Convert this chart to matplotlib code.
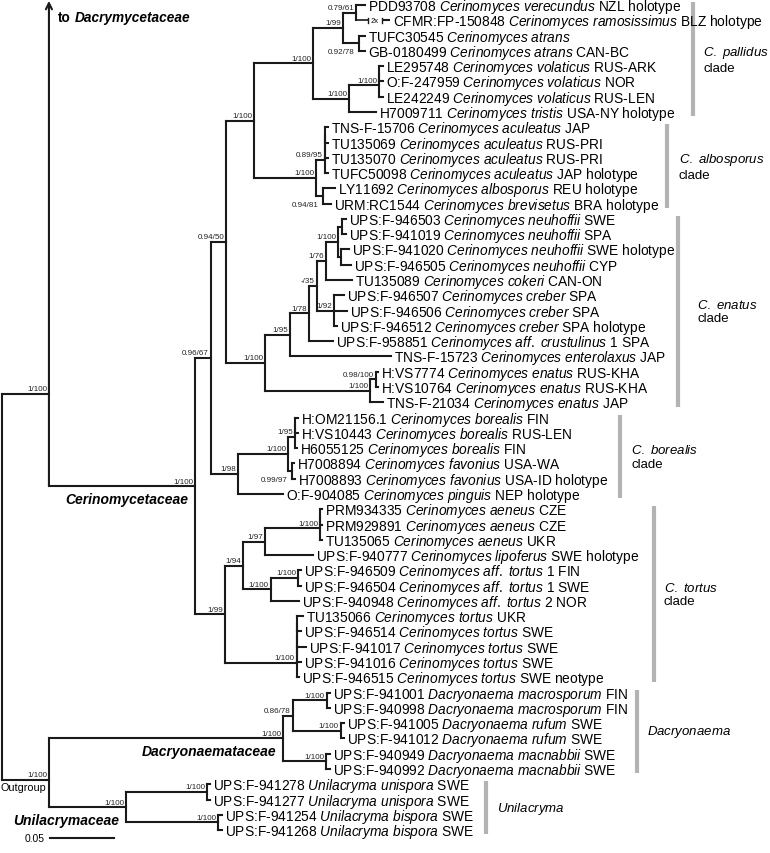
import matplotlib.pyplot as plt
from matplotlib.collections import LineCollection

plt.rcParams["font.family"] = "Liberation Sans"
plt.rcParams["mathtext.fontset"] = "custom"
plt.rcParams["mathtext.rm"] = "Liberation Sans"
plt.rcParams["mathtext.it"] = "Liberation Sans:italic"

# ---- tips, top to bottom ----
tip_ids = [
    "PDD93708", "CFMR:FP-150848", "TUFC30545", "GB-0180499", "LE295748", "O:F-247959",
    "LE242249", "H7009711", "TNS-F-15706", "TU135069", "TU135070", "TUFC50098",
    "LY11692", "URM:RC1544", "UPS:F-946503", "UPS:F-941019", "UPS:F-941020", "UPS:F-946505",
    "TU135089", "UPS:F-946507", "UPS:F-946506", "UPS:F-946512", "UPS:F-958851", "TNS-F-15723",
    "H:VS7774", "H:VS10764", "TNS-F-21034", "H:OM21156.1", "H:VS10443", "H6055125",
    "H7008894", "H7008893", "O:F-904085", "PRM934335", "PRM929891", "TU135065",
    "UPS:F-940777", "UPS:F-946509", "UPS:F-946504", "UPS:F-940948", "TU135066", "UPS:F-946514",
    "UPS:F-941017", "UPS:F-941016", "UPS:F-946515", "UPS:F-941001", "UPS:F-940998", "UPS:F-941005",
    "UPS:F-941012", "UPS:F-940949", "UPS:F-940992", "UPS:F-941278", "UPS:F-941277", "UPS:F-941254",
    "UPS:F-941268",
]
tip_species = [
    "Cerinomyces verecundus", "Cerinomyces ramosissimus", "Cerinomyces atrans", "Cerinomyces atrans",
    "Cerinomyces volaticus", "Cerinomyces volaticus", "Cerinomyces volaticus", "Cerinomyces tristis",
    "Cerinomyces aculeatus", "Cerinomyces aculeatus", "Cerinomyces aculeatus", "Cerinomyces aculeatus",
    "Cerinomyces albosporus", "Cerinomyces brevisetus", "Cerinomyces neuhoffii", "Cerinomyces neuhoffii",
    "Cerinomyces neuhoffii", "Cerinomyces neuhoffii", "Cerinomyces cokeri", "Cerinomyces creber",
    "Cerinomyces creber", "Cerinomyces creber", "Cerinomyces aff. crustulinus 1", "Cerinomyces enterolaxus",
    "Cerinomyces enatus", "Cerinomyces enatus", "Cerinomyces enatus", "Cerinomyces borealis",
    "Cerinomyces borealis", "Cerinomyces borealis", "Cerinomyces favonius", "Cerinomyces favonius",
    "Cerinomyces pinguis", "Cerinomyces aeneus", "Cerinomyces aeneus", "Cerinomyces aeneus",
    "Cerinomyces lipoferus", "Cerinomyces aff. tortus 1", "Cerinomyces aff. tortus 1", "Cerinomyces aff. tortus 2",
    "Cerinomyces tortus", "Cerinomyces tortus", "Cerinomyces tortus", "Cerinomyces tortus",
    "Cerinomyces tortus", "Dacryonaema macrosporum", "Dacryonaema macrosporum", "Dacryonaema rufum",
    "Dacryonaema rufum", "Dacryonaema macnabbii", "Dacryonaema macnabbii", "Unilacryma unispora",
    "Unilacryma unispora", "Unilacryma bispora", "Unilacryma bispora",
]
tip_suffix = [
    "NZL holotype", "BLZ holotype", "", "CAN-BC", "RUS-ARK", "NOR", "RUS-LEN", "USA-NY holotype",
    "JAP", "RUS-PRI", "RUS-PRI", "JAP holotype", "REU holotype", "BRA holotype", "SWE", "SPA",
    "SWE holotype", "CYP", "CAN-ON", "SPA", "SPA", "SPA holotype", "SPA", "JAP",
    "RUS-KHA", "RUS-KHA", "JAP", "FIN", "RUS-LEN", "FIN", "USA-WA", "USA-ID holotype",
    "NEP holotype", "CZE", "CZE", "UKR", "SWE holotype", "FIN", "SWE", "NOR",
    "UKR", "SWE", "SWE", "SWE", "SWE neotype", "FIN", "FIN", "SWE",
    "SWE", "SWE", "SWE", "SWE", "SWE", "SWE", "SWE",
]
tip_parent = [
    "A11", "A11", "A12", "A12", "vol1", "vol1", "vol", "A2", "acu2", "acu2", "acu1", "acu",
    "alb", "alb", "neu1", "neu1", "neu2", "neu2", "I", "cre", "cre", "cre", "G", "F",
    "K", "K", "J", "bor1", "bor1", "bor", "fav", "fav", "M", "aen1", "aen1", "aen",
    "R", "at1", "at1", "S", "T3", "T3", "T2", "T1", "T", "mac", "mac", "ruf",
    "ruf", "macn", "macn", "uni1", "uni1", "uni2", "uni2",
]
# cumulative depth from root, substitutions/site (CFMR branch drawn shortened, "2x")
tip_depth = [
    0.2823, 0.3017, 0.2823, 0.2823, 0.2963, 0.2963, 0.2963, 0.2908, 0.2535, 0.2535, 0.2535, 0.2535,
    0.2589, 0.2558, 0.2675, 0.2675, 0.2698, 0.2714, 0.2722, 0.2659, 0.2683, 0.2605, 0.2574, 0.3025,
    0.2924, 0.2924, 0.2963, 0.2302, 0.2302, 0.2294, 0.2271, 0.2278, 0.2185, 0.2488, 0.2488, 0.2488,
    0.2418, 0.2325, 0.2325, 0.2309, 0.2341, 0.2325, 0.2364, 0.2325, 0.2309, 0.2551, 0.2551, 0.2659,
    0.2659, 0.2551, 0.2551, 0.1617, 0.1617, 0.1711, 0.1711,
]

# ---- internal nodes ----
node_names = [
    "root", "dc", "og", "cer", "D", "C", "B", "A", "A1", "A11", "A12", "A2", "vol", "vol1",
    "V", "acu", "acu1", "acu2", "alb", "E", "F", "G", "H", "I", "neu", "neu1", "neu2", "cre",
    "J", "K", "M", "L", "bor", "bor1", "fav", "P", "Q", "R", "aen", "aen1", "S", "at1",
    "T", "T1", "T2", "T3", "dae", "Y", "mac", "ruf", "macn", "uni", "uni1", "uni2",
]
node_parent = [
    None, "root", "root", "dc", "cer", "D", "C", "B", "A", "A1", "A1", "A", "A2", "vol",
    "B", "V", "acu", "acu1", "V", "C", "E", "F", "G", "H", "I", "neu", "neu", "H",
    "E", "J", "D", "M", "L", "bor", "L", "cer", "P", "Q", "R", "aen", "Q", "S",
    "P", "T", "T1", "T2", "og", "dae", "Y", "Y", "dae", "og", "uni", "uni",
]
node_depth = [
    0.0, 0.0365, 0.0365, 0.1501, 0.1625, 0.1742, 0.1960, 0.2418, 0.2652, 0.2753, 0.2776, 0.2698, 0.2932, 0.2932,
    0.2442, 0.2512, 0.2512, 0.2512, 0.2496, 0.2045, 0.2240, 0.2387, 0.2446, 0.2519, 0.2613, 0.2644, 0.2636, 0.2582,
    0.2862, 0.2908, 0.1835, 0.2224, 0.2278, 0.2278, 0.2253, 0.1734, 0.1874, 0.2045, 0.2473, 0.2473, 0.2089, 0.2302,
    0.2292, 0.2292, 0.2292, 0.2292, 0.2187, 0.2260, 0.2525, 0.2634, 0.2519, 0.0964, 0.1596, 0.1682,
]
node_support = [
    "", "1/100", "1/100", "1/100", "0.96/67", "0.94/50", "1/100", "1/100", "1/99", "0.79/61", "0.92/78", "1/100", "1/100", "",
    "1/100", "0.89/95", "", "", "0.94/81", "1/100", "1/95", "1/78", "-/35", "1/76", "1/100", "", "", "1/92",
    "1/100", "0.98/100", "1/98", "1/100", "1/95", "", "0.99/97", "1/99", "1/94", "1/97", "1/100", "", "1/100", "1/100",
    "1/100", "", "", "", "1/100", "0.86/78", "1/100", "1/100", "1/100", "1/100", "1/100", "1/100",
]
family_labels = {"cer": "Cerinomycetaceae", "dae": "Dacryonaemataceae", "uni": "Unilacrymaceae"}

# ---- clade bars ----
clade_labels = [r"$\mathit{C.\ pallidus}$" + "\nclade", r"$\mathit{C.\ albosporus}$" + "\nclade",
                r"$\mathit{C.\ enatus}$" + "\nclade", r"$\mathit{C.\ borealis}$" + "\nclade",
                r"$\mathit{C.\ tortus}$" + "\nclade", r"$\mathit{Dacryonaema}$", r"$\mathit{Unilacryma}$"]
clade_first = [0, 8, 14, 27, 33, 45, 51]
clade_last = [7, 13, 26, 32, 44, 50, 54]
clade_bar_x = [0.5374, 0.5171, 0.5257, 0.4806, 0.5068, 0.4938, 0.3764]
clade_text_dx = [10, 12, 19, 11, 10, 10, 11]   # pixels from bar to label

# rows where the root's two branches meet the truncated / outgroup lineages
JOIN_ROWS = {"dc": 25.45, "og": 50.7}
# short stems: support value written beside the lower tip instead of above the stem
SUPPORT_BESIDE = {"A12", "alb", "fav"}
BROKEN_TIP = 1           # CFMR branch shown with a break
SCALE_LEN = 0.05

# ---- figure ----
PX = 1286.0  # pixels per substitution/site
fig = plt.figure(figsize=(7.7, 8.54), dpi=100)
ax = fig.add_axes([0, 0, 1, 1])
ax.set_xlim(-2 / PX, 768 / PX)
ax.set_ylim((854 - 6) / 15.28, -6 / 15.28)
ax.axis("off")

parent_of = dict(zip(node_names, node_parent))
depth_of = dict(zip(node_names, node_depth))
support_of = dict(zip(node_names, node_support))

# children in top-to-bottom order of first appearance
children = {n: [] for n in node_names}
for i, p in enumerate(tip_parent):
    children[p].append(i)
    c = p
    while parent_of[c] is not None:
        pp = parent_of[c]
        if c not in children[pp]:
            children[pp].append(c)
        c = pp

ypos = {}
def get_y(n):
    if isinstance(n, int):
        return float(n)
    if n in JOIN_ROWS:
        return JOIN_ROWS[n]
    if n not in ypos:
        ch = children[n]
        ypos[n] = (get_y(ch[0]) + get_y(ch[-1])) / 2
    return ypos[n]

def get_x(n):
    return tip_depth[n] if isinstance(n, int) else depth_of[n]

segs = []
for n in node_names:
    x = depth_of[n]
    ys = [get_y(c) for c in children[n]]
    if n != "dc":
        segs.append([(x, min(ys)), (x, max(ys))])
    for c in children[n]:
        if c == BROKEN_TIP:
            continue
        segs.append([(x, get_y(c)), (get_x(c), get_y(c))])

ax.add_collection(LineCollection(segs, colors="#1a1a1a", linewidths=1.5, capstyle="projecting"))

# truncated lineage to Dacrymycetaceae
dc_x = depth_of["dc"]
ax.annotate("", xy=(dc_x, -0.27), xytext=(dc_x, get_y("cer")),
            arrowprops=dict(arrowstyle="->", lw=1.5, color="#1a1a1a", shrinkA=0, shrinkB=0, mutation_scale=11))
t = ax.annotate("to", xy=(dc_x, -0.27), xytext=(9, -20), textcoords="offset pixels",
                fontsize=9.8, fontweight="bold", va="baseline")
ax.annotate("Dacrymycetaceae", xy=(1, 0), xycoords=t, xytext=(3.8, 0), textcoords="offset pixels",
            fontsize=9.8, fontweight="bold", style="italic", va="bottom")

# broken branch
bp = tip_parent[BROKEN_TIP]
bx0, bx1 = depth_of[bp], tip_depth[BROKEN_TIP]
by = float(BROKEN_TIP)
g0, g1 = bx0 + 12 / PX, bx0 + 26 / PX
ax.plot([bx0, g0], [by, by], color="#1a1a1a", lw=1.2, solid_capstyle="butt")
ax.plot([g1, bx1], [by, by], color="#1a1a1a", lw=1.5, solid_capstyle="butt")
for gx in (g0, g1):
    ax.plot([gx, gx], [by - 0.17, by + 0.17], color="#1a1a1a", lw=1.0)
ax.text((g0 + g1) / 2, by, "2x", fontsize=5.5, ha="center", va="center")

# tip labels
for i in range(len(tip_ids)):
    sp = tip_species[i].replace(" ", r"\ ")
    s = tip_ids[i] + " $\\mathit{" + sp + "}$"
    if tip_suffix[i]:
        s += " " + tip_suffix[i]
    ax.annotate(s, xy=(tip_depth[i], i), xytext=(3, -5), textcoords="offset pixels",
                fontsize=9.9, va="baseline", ha="left")

# support values
for n in node_names:
    if not support_of[n]:
        continue
    if n in SUPPORT_BESIDE:
        ax.annotate(support_of[n], xy=(depth_of[n], get_y(children[n][-1])), xytext=(-4, -1),
                    textcoords="offset pixels", fontsize=5.8, ha="right", va="center", color="#222222")
    else:
        ax.annotate(support_of[n], xy=(depth_of[n], get_y(n)), xytext=(-2, 1.5),
                    textcoords="offset pixels", fontsize=5.8, ha="right", va="bottom", color="#222222")

ax.annotate("Outgroup", xy=(depth_of["og"], get_y("og")), xytext=(-3, -2),
            textcoords="offset pixels", fontsize=7.8, ha="right", va="top")

for n, lab in family_labels.items():
    ax.annotate(lab, xy=(depth_of[n], get_y(n)), xytext=(-7, -6), textcoords="offset pixels",
                fontsize=10, fontweight="bold", style="italic", ha="right", va="top")

# clade bars
for lab, a, b, bx, dx in zip(clade_labels, clade_first, clade_last, clade_bar_x, clade_text_dx):
    ax.plot([bx, bx], [a - 0.2, b + 0.28], color="#b3b3b3", lw=3, solid_capstyle="butt")
    ax.annotate(lab, xy=(bx, (a + b) / 2 + 0.04), xytext=(dx, 0), textcoords="offset pixels",
                fontsize=9.5, ha="left", va="center", linespacing=1.15)

# scale bar
sx0 = 48 / PX
sy = 54.5
ax.plot([sx0, sx0 + SCALE_LEN], [sy, sy], color="#1a1a1a", lw=1.5)
ax.annotate(f"{SCALE_LEN:.2f}", xy=(sx0, sy), xytext=(-5, 0), textcoords="offset pixels",
            fontsize=7.4, ha="right", va="center")

fig.savefig("out.png", dpi=100)
